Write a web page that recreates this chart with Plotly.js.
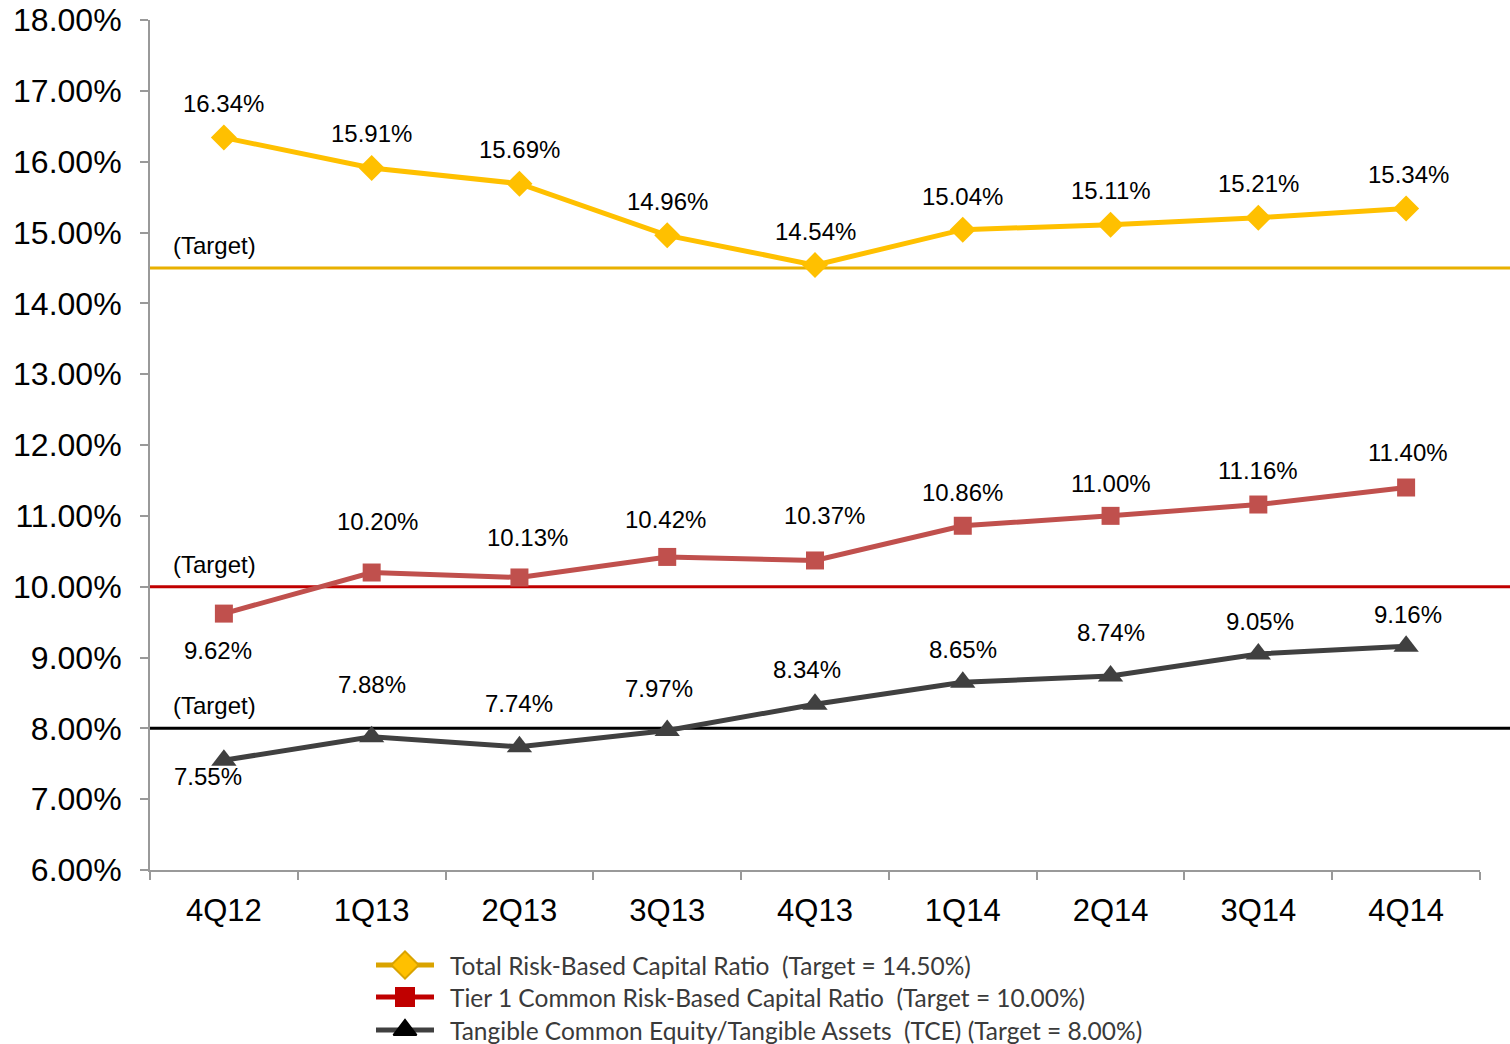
<!DOCTYPE html>
<html>
<head>
<meta charset="utf-8">
<script src="https://cdn.plot.ly/plotly-3.0.1.min.js"></script>
<style>html,body{margin:0;padding:0;background:#fff;}#chart{width:1510px;height:1044px;}</style>
</head>
<body>
<div id="chart"></div>
<script>
const quarters = ["4Q12","1Q13","2Q13","3Q13","4Q13","1Q14","2Q14","3Q14","4Q14"];
const totalRiskBased = [16.34,15.91,15.69,14.96,14.54,15.04,15.11,15.21,15.34];
const tier1Common = [9.62,10.20,10.13,10.42,10.37,10.86,11.00,11.16,11.40];
const tce = [7.55,7.88,7.74,7.97,8.34,8.65,8.74,9.05,9.16];
const targets = [14.50,10.00,8.00];
const seriesNames = [
  "Total Risk-Based Capital Ratio\u00a0\u00a0(Target = 14.50%)",
  "Tier 1 Common Risk-Based Capital Ratio\u00a0\u00a0(Target = 10.00%)",
  "Tangible Common Equity/Tangible Assets\u00a0\u00a0(TCE) (Target = 8.00%)"
];

// label offsets (layout only)
const offTotal = [[0,34],[0,35],[0,34],[0,34],[0,34],[0,33],[0,34],[0,34],[2,34]];
const offTier1 = [[-6,-37],[6,51],[8,40],[-2,37],[9,45],[0,33],[0,32],[0,34],[2,35]];
const offTce = [[-16,-16],[0,52],[0,43],[-8,42],[-8,35],[0,33],[0,43],[2,32],[2,32]];

const colors = ["#FFC000","#C0504D","#404040"];
const targetColors = ["#E8B000","#C00000","#000000"];
const symbols = ["diamond","square","triangle-up"];
const markerSizes = [20,18,22];
const allData = [totalRiskBased, tier1Common, tce];
const allOff = [offTotal, offTier1, offTce];

// custom legend styling (pixel layout in the legend strip)
const legLineColors = ["#D9A300","#C00000","#404040"];
const legMarkerColors = ["#FFC000","#C00000","#000000"];
const legMarkerOutline = ["#D9A300","#C00000","#000000"];
const legMarkerSizes = [21,18,20];
const legRows = [965,997,1030];
const legLineX = [376,434];
const legSymX = 405;
const legTextX = 448;

const traces = allData.map((vals,i)=>({
  type:"scatter", mode:"lines+markers", x:quarters, y:vals, name:seriesNames[i],
  line:{color:colors[i], width:5},
  marker:{symbol:symbols[i], size:markerSizes[i], color:colors[i], line:{width:0}},
  cliponaxis:false, hoverinfo:"skip", showlegend:false
}));
legRows.forEach((ry,i)=>{
  traces.push({type:"scatter", mode:"lines", xaxis:"x2", yaxis:"y2",
    x:legLineX, y:[ry,ry], line:{color:legLineColors[i], width:5},
    cliponaxis:false, hoverinfo:"skip", showlegend:false});
  traces.push({type:"scatter", mode:"markers", xaxis:"x2", yaxis:"y2",
    x:[legSymX], y:[ry],
    marker:{symbol:symbols[i], size:legMarkerSizes[i], color:legMarkerColors[i], opacity:1,
      line:{width:2, color:legMarkerOutline[i]}},
    cliponaxis:false, hoverinfo:"skip", showlegend:false});
});

const labelFont = {family:"Liberation Sans, Arial, sans-serif", size:24, color:"#000"};
const annotations = [];
allData.forEach((vals,i)=>{
  vals.forEach((v,j)=>{
    annotations.push({x:quarters[j], y:v, xref:"x", yref:"y", text:v.toFixed(2)+"%",
      showarrow:false, xshift:allOff[i][j][0], yshift:allOff[i][j][1], font:labelFont});
  });
});
targets.forEach((t,i)=>{
  annotations.push({x:0.016, y:t, xref:"paper", yref:"y", text:"(Target)", showarrow:false,
    xanchor:"left", yanchor:"bottom", yshift:7, font:labelFont});
});
legRows.forEach((ry,i)=>{
  annotations.push({x:legTextX, y:ry, xref:"x2", yref:"y2", text:seriesNames[i], showarrow:false,
    xanchor:"left", yanchor:"middle",
    font:{family:"Lato, Noto Sans, sans-serif", size:24.5, color:"#3A3A3A"}});
});

const shapes = targets.map((t,i)=>({type:"line", xref:"paper", yref:"y", x0:0, x1:1.023, y0:t, y1:t,
  line:{color:targetColors[i], width:3}, layer:"below"}));

// plot area: top 20px, bottom at 870px; paper region covers 20..1044
const layout = {
  width:1510, height:1044,
  margin:{l:150, r:30, t:20, b:0},
  paper_bgcolor:"#fff", plot_bgcolor:"#fff",
  showlegend:false,
  xaxis:{type:"category", range:[-0.5,8.5], showline:true, linecolor:"#999", linewidth:2,
    ticks:"outside", ticklen:8, tickcolor:"#999", tickwidth:2, tickson:"boundaries",
    showgrid:false, zeroline:false, ticklabelstandoff:12, anchor:"y",
    tickfont:{family:"Liberation Sans, Arial, sans-serif", size:31, color:"#000"}},
  yaxis:{range:[6,18], dtick:1, tick0:6, tickformat:".2f", ticksuffix:"%",
    domain:[0.1699,1],
    showline:true, linecolor:"#999", linewidth:2, ticks:"outside", ticklen:8, tickcolor:"#999", tickwidth:2,
    showgrid:false, zeroline:false, ticklabelstandoff:12,
    tickfont:{family:"Liberation Sans, Arial, sans-serif", size:32, color:"#000"}},
  xaxis2:{domain:[0,1], range:[150,1480], anchor:"y2", visible:false, fixedrange:true},
  yaxis2:{domain:[0,0.1699], range:[1044,870], anchor:"x2", visible:false, fixedrange:true},
  shapes:shapes, annotations:annotations
};
Plotly.newPlot("chart", traces, layout, {displayModeBar:false, staticPlot:true});
</script>
</body>
</html>
